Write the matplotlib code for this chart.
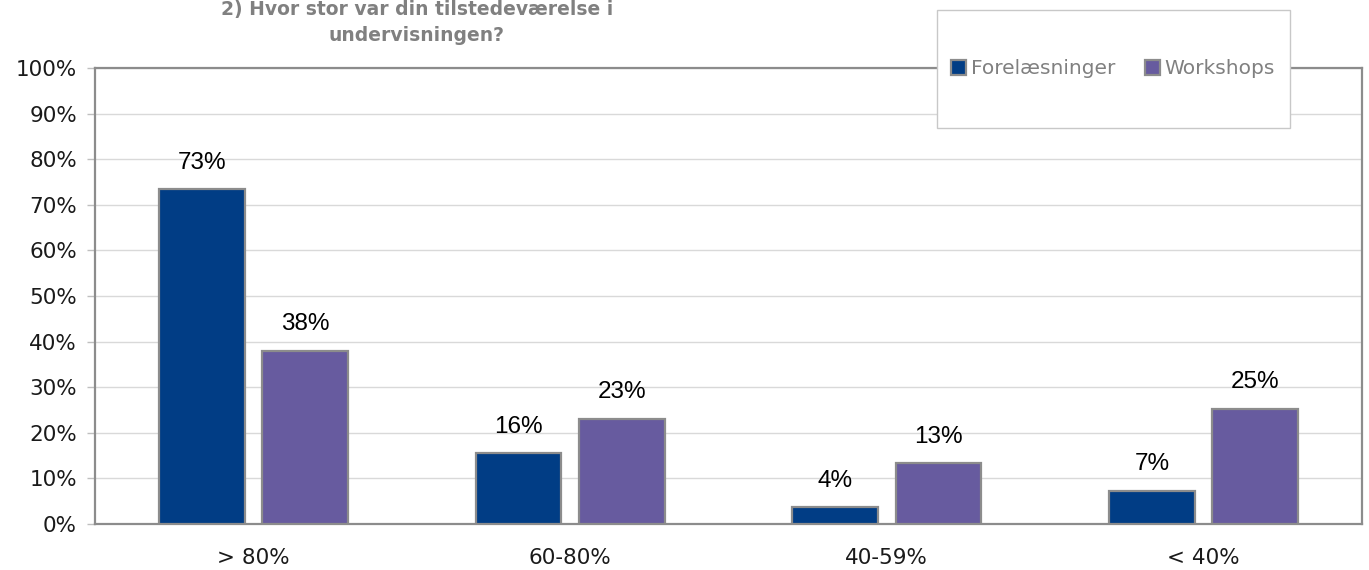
import numpy as np
import matplotlib
matplotlib.use("Agg")
import matplotlib.pyplot as plt
from matplotlib.patches import Rectangle

# chart data
categories = ["> 80%", "60-80%", "40-59%", "< 40%"]
forelaesninger = [73.4, 15.6, 3.7, 7.3]
workshops = [38.0, 23.1, 13.4, 25.3]
labels_f = ["73%", "16%", "4%", "7%"]
labels_w = ["38%", "23%", "13%", "25%"]
title = "2) Hvor stor var din tilstedeværelse i\nundervisningen?"

blue = "#013D85"
purple = "#675B9F"
edge = "#8C8C8C"
text_grey = "#808080"

fig = plt.figure(figsize=(13.69, 5.70), dpi=100)
# axes placed in pixels: left 95, right 1362, top 68, bottom 524
W, H = 1369, 570
ax = fig.add_axes([95 / W, (H - 524) / H, (1362 - 95) / W, (524 - 68) / H])

x = np.arange(len(categories))
width = 0.27
off = 0.163

bars_f = ax.bar(x - off, forelaesninger, width, color=blue, edgecolor=edge,
                linewidth=1.6, label="Forelæsninger", zorder=3)
bars_w = ax.bar(x + off, workshops, width, color=purple, edgecolor=edge,
                linewidth=1.6, label="Workshops", zorder=3)

# value labels above bars
for bars, labs in ((bars_f, labels_f), (bars_w, labels_w)):
    for b, lab in zip(bars, labs):
        ax.annotate(lab, (b.get_x() + b.get_width() / 2, b.get_height()),
                    xytext=(0, 11), textcoords="offset points",
                    ha="center", va="bottom", fontsize=17.5,
                    family="Liberation Sans", color="#000000")

ax.set_xlim(-0.5, 3.5)
ax.set_ylim(0, 100)
ax.set_yticks(np.arange(0, 101, 10))
ax.set_yticklabels([f"{v}%" for v in range(0, 101, 10)])
ax.set_xticks(x)
ax.set_xticklabels(categories)

ax.tick_params(axis="y", length=6, width=1, color="#BFBFBF", labelsize=15.5, pad=7)
ax.tick_params(axis="x", length=0, labelsize=15.5, pad=17)
for lab in ax.get_xticklabels() + ax.get_yticklabels():
    lab.set_family("DejaVu Sans")
    lab.set_color("#1a1a1a")

ax.grid(axis="y", color="#D9D9D9", linewidth=1, zorder=0)
ax.set_axisbelow(True)
for s in ax.spines.values():
    s.set_color(edge)
    s.set_linewidth(1.6)

# title
fig.text(417 / W, 1 - 45 / H, title, ha="center", va="bottom", fontsize=13.5,
         fontweight="bold", family="DejaVu Sans", color=text_grey, linespacing=1.5)

# legend box drawn as a figure rectangle
box = Rectangle((937 / W, 1 - 128 / H), (1290 - 937) / W, (128 - 10) / H,
                transform=fig.transFigure, facecolor="white",
                edgecolor="#C8C8C8", linewidth=1, zorder=3)
fig.patches.append(box)
leg = fig.legend(handles=[bars_f, bars_w], loc="center", ncol=2,
                 bbox_to_anchor=(1113 / W, 1 - 69 / H), frameon=False,
                 handlelength=0.75, handleheight=0.75, handletextpad=0.2,
                 columnspacing=1.5, prop={"family": "DejaVu Sans", "size": 14.5})
leg.set_zorder(5)
for t in leg.get_texts():
    t.set_color(text_grey)

fig.savefig("out.png", dpi=100)
